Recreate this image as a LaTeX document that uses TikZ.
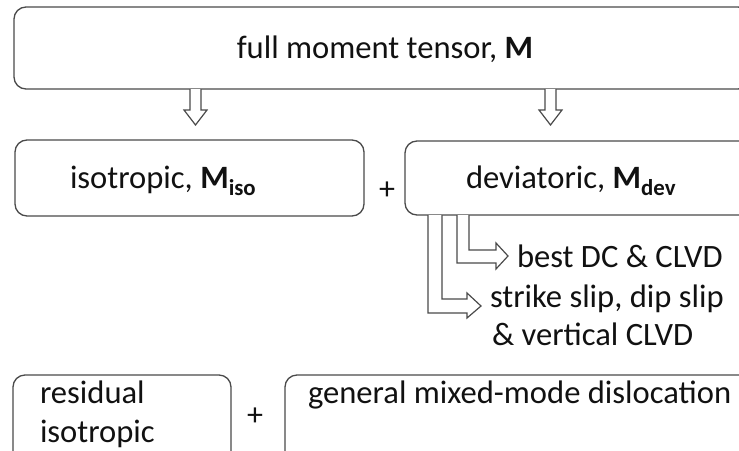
\documentclass[tikz,border=0pt]{standalone}
\usepackage{fontspec}
\setmainfont{Carlito}
\usetikzlibrary{calc}
\definecolor{edgegray}{HTML}{4A4A4A}
\definecolor{inkc}{HTML}{111111}
\begin{document}
\begin{tikzpicture}[x=1pt,y=-1pt,
  box/.style={draw=edgegray, line width=1.3pt, rounded corners=12pt, rectangle, outer sep=0pt, inner sep=0pt, anchor=north west},
  lbl/.style={font=\fontsize{32.6}{38}\selectfont, text=inkc, inner sep=0pt, outer sep=0pt, anchor=base west},
  plus/.style={font=\fontsize{32}{34}\selectfont, text=inkc, inner sep=0pt},
  harrow/.style={draw=edgegray, line width=1.2pt, fill=white, line join=miter},
  downarrow/.pic={\draw[harrow] (-5.5,0) -- (-5.5,21) -- (-11.5,21) -- (0,36) -- (11.5,21) -- (5.5,21) -- (5.5,0);},
  innerelbow/.pic={\draw[harrow] (0,0) -- (0,48) -- (39,48) -- (39,54) -- (51,41) -- (39,28) -- (39,35) -- (12,35) -- (12,0);},
  outerelbow/.pic={\draw[harrow] (0,0) -- (0,98) -- (39,98) -- (39,103) -- (53,91) -- (39,78) -- (39,84) -- (14,84) -- (14,0);}
]
\useasboundingbox (0,0) rectangle (739,450);
\clip (0,0) rectangle (739,450);

% boxes
\node[box, minimum width=736pt, minimum height=82pt] (full) at (14,7) {};
\node[box, minimum width=349pt, minimum height=76pt] (iso) at (15,140) {};
\node[box, minimum width=400pt, minimum height=74pt] (dev) at (405,141) {};
\node[box, minimum width=218pt, minimum height=100pt] (resid) at (13,375) {};
\node[box, minimum width=500pt, minimum height=100pt] (gen) at (285,375) {};

% texts
\node[lbl, anchor=base] (tfull) at (385,58) {full moment tensor, \textbf{M}};
\node[lbl] (tiso) at (70,188) {isotropic, {\bfseries M\textsubscript{iso}}};
\node[lbl] (tdev) at (466,188) {deviatoric, {\bfseries M\textsubscript{dev}}};
\node[lbl] (tbest) at (517,267) {best DC \& CLVD};
\node[lbl] (tss1) at (490,307) {strike slip, dip slip};
\node[lbl] (tss2) at (492,345) {\& vertical CLVD};
\node[lbl] (tres1) at (40,403) {residual};
\node[lbl] (tres2) at (40,442) {isotropic};
\node[lbl] (tgen) at (308,403) {general mixed-mode dislocation};
\node[plus] (p1) at (387,191) {+};
\node[plus] (p2) at (255,417) {+};

% arrows
\coordinate (a1) at ($(full.south west)+(181.5,0)$);
\coordinate (a2) at ($(full.south west)+(536.5,0)$);
\pic at (a1) {downarrow};
\pic at (a2) {downarrow};
\coordinate (e1) at ($(dev.south west)+(52,0)$);
\coordinate (e2) at ($(dev.south west)+(23,0)$);
\pic at (e1) {innerelbow};
\pic at (e2) {outerelbow};
\end{tikzpicture}
\end{document}
